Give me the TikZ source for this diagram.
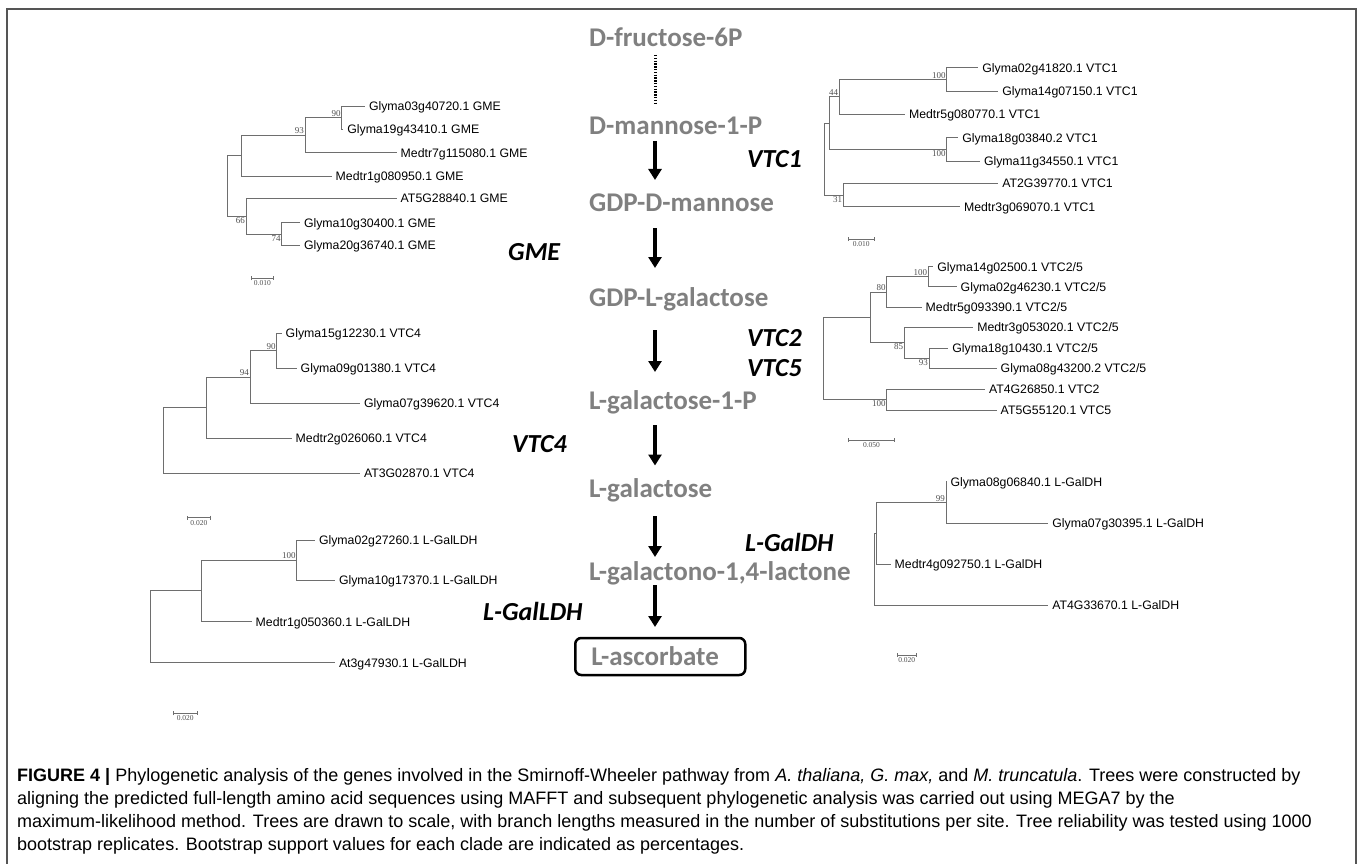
\documentclass[tikz,border=0pt]{standalone}
\usepackage{fontspec}
\setmainfont{Liberation Sans}
\newfontfamily\pathfont{Carlito}
\newfontfamily\leaffont[WordSpace=2]{Liberation Sans}
\newfontfamily\bootfont{Liberation Serif}
\newfontfamily\capfont{Liberation Sans}
\usetikzlibrary{arrows.meta}
\definecolor{metabgray}{RGB}{128,128,128}
\definecolor{branchgray}{RGB}{110,110,110}
\definecolor{bootgray}{RGB}{80,80,80}
\definecolor{framegray}{RGB}{85,85,85}
\tikzset{
  metab/.style={anchor=west, inner sep=0pt, text=metabgray, font=\pathfont\bfseries\fontsize{27}{30}\selectfont, text height=17.4pt, text depth=0pt},
  enzyme/.style={anchor=west, inner sep=0pt, font=\pathfont\bfseries\itshape\fontsize{26}{30}\selectfont, text height=16.7pt, text depth=0pt},
  conv/.style={line width=3.2pt, -{Triangle[width=13pt,length=11pt]}},
  dotline/.style={line width=3pt, dash pattern=on 1.4pt off 1.4pt},
  branch/.style={draw=branchgray, line width=0.8pt},
  leaf/.style={anchor=west, inner xsep=3.8pt, inner ysep=0pt, font=\leaffont\fontsize{12.3}{14}\selectfont, text height=8.8pt, text depth=0pt},
  boot/.style={inner sep=1pt, text=bootgray, font=\bootfont\fontsize{9}{10}\selectfont},
  sbar/.style={branch, {Bar[width=4pt]}-{Bar[width=4pt]}},
  slabel/.style={inner sep=1pt, text=bootgray, font=\bootfont\fontsize{7.5}{8}\selectfont},
  capline/.style={anchor=base west, inner sep=0pt, font=\capfont\fontsize{18}{23}\selectfont}
}
\begin{document}
\begin{tikzpicture}[x=1pt,y=-1pt]
\useasboundingbox (0,0) rectangle (1358,864);
\draw[framegray, line width=1.4pt] (7,870) -- (7,9) -- (1356,9) -- (1356,870);

\node[metab] (fru) at (589,37.4) {D-fructose-6P};
\node[metab] (man1p) at (589,125.4) {D-mannose-1-P};
\node[metab] (gdpman) at (589,203) {GDP-D-mannose};
\node[metab] (gdpgal) at (589,298) {GDP-L-galactose};
\node[metab] (gal1p) at (589,401) {L-galactose-1-P};
\node[metab] (gal) at (589,489) {L-galactose};
\node[metab] (galac) at (589,572) {L-galactono-1,4-lactone};
\node[metab, draw=black, line width=2.5pt, rounded corners=6pt, inner xsep=16pt, text width=138pt, minimum height=37pt] (asc) at (574,656.5) {L-ascorbate};
\coordinate (d0a) at (655,55);
\coordinate (d0b) at (655,103);
\coordinate (a1a) at (655,141);
\coordinate (a1b) at (655,180);
\coordinate (a2a) at (655,228);
\coordinate (a2b) at (655,268);
\coordinate (a3a) at (655,330);
\coordinate (a3b) at (655,372);
\coordinate (a4a) at (655,425);
\coordinate (a4b) at (655,465.5);
\coordinate (a5a) at (655,516);
\coordinate (a5b) at (655,557);
\coordinate (a6a) at (655,585);
\coordinate (a6b) at (655,627);
\draw[dotline] (d0a) -- (d0b);
\draw[conv] (a1a) -- (a1b);
\draw[conv] (a2a) -- (a2b);
\draw[conv] (a3a) -- (a3b);
\draw[conv] (a4a) -- (a4b);
\draw[conv] (a5a) -- (a5b);
\draw[conv] (a6a) -- (a6b);
\node[enzyme] (vtc1) at (747,159) {VTC1};
\node[enzyme] (gme) at (508,252) {GME};
\node[enzyme] (vtc2) at (747,338.5) {VTC2};
\node[enzyme] (vtc5) at (747,368) {VTC5};
\node[enzyme] (vtc4) at (512,444) {VTC4};
\node[enzyme] (galdh) at (745,543) {L-GalDH};
\node[enzyme] (galldh) at (483,612) {L-GalLDH};

\coordinate (groot) at (227.3,185.9);
\coordinate (gA) at (241.7,155.6);
\coordinate (g93) at (305,135.2);
\coordinate (g90) at (341.7,117.7);
\coordinate (g66) at (246,216.1);
\coordinate (g74) at (281.7,233.9);
\node[leaf] (g1) at (365,106) {Glyma03g40720.1 GME};
\node[leaf] (g2) at (343.3,129.3) {Glyma19g43410.1 GME};
\node[leaf] (g3) at (396.7,152.7) {Medtr7g115080.1 GME};
\node[leaf] (g4) at (331.7,176) {Medtr1g080950.1 GME};
\node[leaf] (g5) at (396.7,198.3) {AT5G28840.1 GME};
\node[leaf] (g6) at (300,222.7) {Glyma10g30400.1 GME};
\node[leaf] (g7) at (300,245) {Glyma20g36740.1 GME};
\draw[branch] (g90) |- (g1.west);
\draw[branch] (g90) |- (g2.west);
\draw[branch] (g93) |- (g90);
\draw[branch] (g93) |- (g3.west);
\draw[branch] (gA) |- (g93);
\draw[branch] (gA) |- (g4.west);
\draw[branch] (groot) |- (gA);
\draw[branch] (groot) |- (g66);
\draw[branch] (g66) |- (g5.west);
\draw[branch] (g66) |- (g74);
\draw[branch] (g74) |- (g6.west);
\draw[branch] (g74) |- (g7.west);
\node[boot, anchor=south east] (bg90) at (g90) {90};
\node[boot, anchor=south east] (bg93) at (g93) {93};
\node[boot, anchor=north east] (bg74) at (g74) {74};
\node[boot, anchor=north east] (bg66) at (g66) {66};
\coordinate (gs1) at (250.7,278.3);
\coordinate (gs2) at (274,278.3);
\draw[sbar] (gs1) -- (gs2) node[slabel, midway, below=1pt] (gsl) {0.010};

\coordinate (vroot) at (824.3,159);
\coordinate (vA) at (829.3,123.1);
\coordinate (v44) at (839.3,96.8);
\coordinate (v100a) at (946.7,79.3);
\coordinate (v100b) at (946.7,149.3);
\coordinate (v31) at (843.3,195);
\node[leaf] (v1) at (978.3,67.7) {Glyma02g41820.1 VTC1};
\node[leaf] (v2) at (998.3,91) {Glyma14g07150.1 VTC1};
\node[leaf] (v3) at (905,114.3) {Medtr5g080770.1 VTC1};
\node[leaf] (v4) at (958.3,137.7) {Glyma18g03840.2 VTC1};
\node[leaf] (v5) at (980,161) {Glyma11g34550.1 VTC1};
\node[leaf] (v6) at (998.3,183.3) {AT2G39770.1 VTC1};
\node[leaf] (v7) at (960,206.7) {Medtr3g069070.1 VTC1};
\draw[branch] (v100a) |- (v1.west);
\draw[branch] (v100a) |- (v2.west);
\draw[branch] (v44) |- (v100a);
\draw[branch] (v44) |- (v3.west);
\draw[branch] (vA) |- (v44);
\draw[branch] (vA) |- (v100b);
\draw[branch] (v100b) |- (v4.west);
\draw[branch] (v100b) |- (v5.west);
\draw[branch] (vroot) |- (vA);
\draw[branch] (vroot) |- (v31);
\draw[branch] (v31) |- (v6.west);
\draw[branch] (v31) |- (v7.west);
\node[boot, anchor=south east] (bv100a) at (v100a) {100};
\node[boot, anchor=south east] (bv44) at (v44) {44};
\node[boot, anchor=north east] (bv100b) at (v100b) {100};
\node[boot, anchor=north east] (bv31) at (v31) {31};
\coordinate (vs1) at (848.3,239);
\coordinate (vs2) at (874.3,239);
\draw[sbar] (vs1) -- (vs2) node[slabel, midway, below=1pt] (vsl) {0.010};

\coordinate (wroot) at (823.3,358.5);
\coordinate (wX) at (870,317.4);
\coordinate (w80) at (886.7,292);
\coordinate (w100a) at (928.3,276.7);
\coordinate (w85) at (904.3,342.8);
\coordinate (w93) at (929,358.3);
\coordinate (w100c) at (886.7,399.7);
\node[leaf] (w1) at (933.3,266.7) {Glyma14g02500.1 VTC2/5};
\node[leaf] (w2) at (956.7,286.7) {Glyma02g46230.1 VTC2/5};
\node[leaf] (w3) at (921.7,307.3) {Medtr5g093390.1 VTC2/5};
\node[leaf] (w4) at (973.3,327.3) {Medtr3g053020.1 VTC2/5};
\node[leaf] (w5) at (948.3,348.3) {Glyma18g10430.1 VTC2/5};
\node[leaf] (w6) at (996.7,368.3) {Glyma08g43200.2 VTC2/5};
\node[leaf] (w7) at (985,389.3) {AT4G26850.1 VTC2};
\node[leaf] (w8) at (996.7,410) {AT5G55120.1 VTC5};
\draw[branch] (w100a) |- (w1.west);
\draw[branch] (w100a) |- (w2.west);
\draw[branch] (w80) |- (w100a);
\draw[branch] (w80) |- (w3.west);
\draw[branch] (wX) |- (w80);
\draw[branch] (wX) |- (w85);
\draw[branch] (w85) |- (w4.west);
\draw[branch] (w85) |- (w93);
\draw[branch] (w93) |- (w5.west);
\draw[branch] (w93) |- (w6.west);
\draw[branch] (wroot) |- (wX);
\draw[branch] (wroot) |- (w100c);
\draw[branch] (w100c) |- (w7.west);
\draw[branch] (w100c) |- (w8.west);
\node[boot, anchor=south east] (bw100a) at (w100a) {100};
\node[boot, anchor=south east] (bw80) at (w80) {80};
\node[boot, anchor=north east] (bw85) at (w85) {85};
\node[boot, anchor=north east] (bw93) at (w93) {93};
\node[boot, anchor=north east] (bw100c) at (w100c) {100};
\coordinate (ws1) at (848,440);
\coordinate (ws2) at (895,440);
\draw[sbar] (ws1) -- (ws2) node[slabel, midway, below=1pt] (wsl) {0.050};

\coordinate (croot) at (163.3,440.5);
\coordinate (cA) at (206,407.7);
\coordinate (c94) at (250,377.1);
\coordinate (c90) at (276.7,350.8);
\node[leaf] (c1) at (281.7,333.3) {Glyma15g12230.1 VTC4};
\node[leaf] (c2) at (296.7,368.3) {Glyma09g01380.1 VTC4};
\node[leaf] (c3) at (360,403.3) {Glyma07g39620.1 VTC4};
\node[leaf] (c4) at (291.7,438.3) {Medtr2g026060.1 VTC4};
\node[leaf] (c5) at (360,473.3) {AT3G02870.1 VTC4};
\draw[branch] (c90) |- (c1.west);
\draw[branch] (c90) |- (c2.west);
\draw[branch] (c94) |- (c90);
\draw[branch] (c94) |- (c3.west);
\draw[branch] (cA) |- (c94);
\draw[branch] (cA) |- (c4.west);
\draw[branch] (croot) |- (cA);
\draw[branch] (croot) |- (c5.west);
\node[boot, anchor=south east] (bc90) at (c90) {90};
\node[boot, anchor=south east] (bc94) at (c94) {94};
\coordinate (cs1) at (186.7,517.7);
\coordinate (cs2) at (211,517.7);
\draw[sbar] (cs1) -- (cs2) node[slabel, midway, below=1pt] (csl) {0.020};

\coordinate (lroot) at (150,626.8);
\coordinate (lA) at (201.7,590.8);
\coordinate (l100) at (296.7,560);
\node[leaf] (l1) at (315,540) {Glyma02g27260.1 L-GalLDH};
\node[leaf] (l2) at (335,580) {Glyma10g17370.1 L-GalLDH};
\node[leaf] (l3) at (251.7,621.7) {Medtr1g050360.1 L-GalLDH};
\node[leaf] (l4) at (335,662.7) {At3g47930.1 L-GalLDH};
\draw[branch] (l100) |- (l1.west);
\draw[branch] (l100) |- (l2.west);
\draw[branch] (lA) |- (l100);
\draw[branch] (lA) |- (l3.west);
\draw[branch] (lroot) |- (lA);
\draw[branch] (lroot) |- (l4.west);
\node[boot, anchor=south east] (bl100) at (l100) {100};
\coordinate (ls1) at (173.3,713.3);
\coordinate (ls2) at (197.3,713.3);
\draw[sbar] (ls1) -- (ls2) node[slabel, midway, below=1pt] (lsl) {0.020};

\coordinate (droot) at (874,569.1);
\coordinate (dA) at (876,533.3);
\coordinate (d99) at (946,502.5);
\node[leaf] (d1) at (946.5,481.7) {Glyma08g06840.1 L-GalDH};
\node[leaf] (d2) at (1048.3,523.3) {Glyma07g30395.1 L-GalDH};
\node[leaf] (d3) at (890.7,564) {Medtr4g092750.1 L-GalDH};
\node[leaf] (d4) at (1048.3,605) {AT4G33670.1 L-GalDH};
\draw[branch] (d99) |- (d1.west);
\draw[branch] (d99) |- (d2.west);
\draw[branch] (dA) |- (d99);
\draw[branch] (dA) |- (d3.west);
\draw[branch] (droot) |- (dA);
\draw[branch] (droot) |- (d4.west);
\node[boot, anchor=south east] (bd99) at (d99) {99};
\coordinate (ds1) at (896.7,655);
\coordinate (ds2) at (916.7,655);
\draw[sbar] (ds1) -- (ds2) node[slabel, midway, below=1pt] (dsl) {0.020};

\node[capline] (cap1) at (17,781) {\textbf{FIGURE 4 |} Phylogenetic analysis of the genes involved in the Smirnoff-Wheeler pathway from \textit{A. thaliana, G. max,} and \textit{M. truncatula}. Trees were constructed by};
\node[capline] (cap2) at (17,804) {aligning the predicted full-length amino acid sequences using MAFFT and subsequent phylogenetic analysis was carried out using MEGA7 by the};
\node[capline] (cap3) at (17,827) {maximum-likelihood method. Trees are drawn to scale, with branch lengths measured in the number of substitutions per site. Tree reliability was tested using 1000};
\node[capline] (cap4) at (17,850) {bootstrap replicates. Bootstrap support values for each clade are indicated as percentages.};
\end{tikzpicture}
\end{document}
